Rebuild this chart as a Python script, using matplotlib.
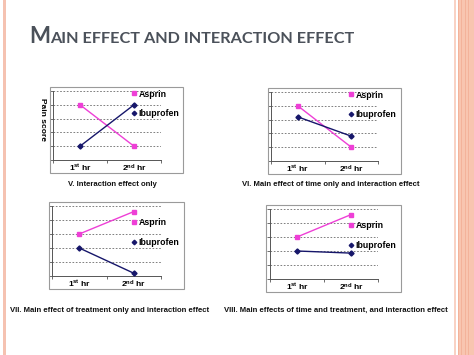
import matplotlib
matplotlib.use("Agg")
import matplotlib.pyplot as plt
from matplotlib.patches import Rectangle
from matplotlib.lines import Line2D
from matplotlib.transforms import offset_copy

plt.rcParams['font.family'] = ['Liberation Sans', 'DejaVu Sans']
plt.rcParams['mathtext.fontset'] = 'custom'
plt.rcParams['mathtext.rm'] = 'Liberation Sans:bold'
plt.rcParams['mathtext.bf'] = 'Liberation Sans:bold'
plt.rcParams['mathtext.it'] = 'Liberation Sans:bold'

# ---------------- data ----------------
title_first = "M"
title_rest = "AIN EFFECT AND INTERACTION EFFECT"
categories = [r"1$^{\mathrm{st}}$ hr", r"2$^{\mathrm{nd}}$ hr"]
series_names = ["Asprin", "Ibuprofen"]
y_label = "Pain score"

caption_v = "V. Interaction effect only"
caption_vi = "VI. Main effect of time only and interaction effect"
caption_vii = "VII. Main effect of treatment only and interaction effect"
caption_viii = "VIII. Main effects of time and treatment, and interaction effect"

aspirin_v = [4, 1]
ibuprofen_v = [1, 4]
aspirin_vi = [4, 1]
ibuprofen_vi = [3.2, 1.8]
aspirin_vii = [3, 4.6]
ibuprofen_vii = [2, 0.2]
aspirin_viii = [3, 4.6]
ibuprofen_viii = [2, 1.85]

# ---------------- style ----------------
W, H = 474, 355
C_ASP = "#ee3fd6"
C_IBU = "#16166a"
C_GRID = "#6a6a6a"
C_FRAME = "#9a9a9a"
C_TITLE = "#4b515a"

fig = plt.figure(figsize=(W / 100, H / 100), dpi=100)
fig.patch.set_facecolor("white")


def fx(x):
    return x / W


def fy(y):
    return 1 - y / H


def rect(x0, y0, x1, y1, **kw):
    fig.patches.append(Rectangle((fx(x0), fy(y1)), (x1 - x0) / W, (y1 - y0) / H,
                                 transform=fig.transFigure, **kw))


# slide decorations
rect(3, 0, 5.5, H, facecolor="#f5c2b1", edgecolor="none")
rect(453.5, 0, 455.5, H, facecolor="#f9d2c4", edgecolor="none")
rect(458, 0, 474, H, facecolor="#f8c5b0", edgecolor="none")
for xs in [(458, 459.3), (461, 462), (464.5, 465.5), (468, 469)]:
    rect(xs[0], 0, xs[1], H, facecolor="#f3b29a", edgecolor="none")

# title (small caps)
t1 = fig.text(fx(29), fy(43), title_first, fontsize=16, color=C_TITLE,
              family="Lato", fontweight="bold", va="baseline", ha="left")
fig.canvas.draw()
bb = t1.get_window_extent()
fig.text(bb.x1 / W + 0.5 / W, fy(43), title_rest, fontsize=11.7, color=C_TITLE,
         family="Lato", fontweight="bold", va="baseline", ha="left")

panels = [
    dict(ax=(53, 161, 91, 160), frame=(50, 87, 183, 173), cap=(112, 185), text=caption_v,
         asp=aspirin_v, ibu=ibuprofen_v, leg_y=4.78, ylabel=True),
    dict(ax=(271, 378, 92, 161), frame=(268, 88, 401, 174), cap=(331, 184), text=caption_vi,
         asp=aspirin_vi, ibu=ibuprofen_vi, leg_y=4.78, ylabel=False),
    dict(ax=(52, 161, 206, 276), frame=(49, 202, 184, 289), cap=(110, 310), text=caption_vii,
         asp=aspirin_vii, ibu=ibuprofen_vii, leg_y=3.79, ylabel=False),
    dict(ax=(270, 378, 209, 279), frame=(266, 205, 401, 292), cap=(336, 310), text=caption_viii,
         asp=aspirin_viii, ibu=ibuprofen_viii, leg_y=3.79, ylabel=False),
]

xpos = [0.5, 1.5]
for p in panels:
    l, r, t, b = p["ax"]
    rect(*p["frame"], facecolor="none", edgecolor=C_FRAME, lw=0.8)
    ax = fig.add_axes([fx(l), fy(b), (r - l) / W, (b - t) / H])
    ax.set_facecolor("none")
    ax.set_xlim(0, 2)
    ax.set_ylim(0, 5)
    ax.plot(xpos, p["asp"], color=C_ASP, lw=1.0, marker="s", ms=2.8, zorder=3)
    ax.plot(xpos, p["ibu"], color=C_IBU, lw=1.0, marker="D", ms=2.6, zorder=3)
    for s in ["top", "right"]:
        ax.spines[s].set_visible(False)
    for s in ["left", "bottom"]:
        ax.spines[s].set_color("#555555")
        ax.spines[s].set_linewidth(0.7)
    ax.set_yticks(range(0, 6))
    ax.set_yticklabels([])
    ax.tick_params(axis="y", length=2, width=0.6, color="#555555")
    ax.grid(axis="y", color=C_GRID, ls=(0, (2, 2)), lw=0.6)
    ax.set_xticks(xpos)
    ax.set_xticklabels(categories, fontsize=6, fontweight="bold")
    ax.set_xticks([0, 1, 2], minor=True)
    ax.tick_params(axis="x", which="major", length=0, pad=2)
    ax.tick_params(axis="x", which="minor", length=2, width=0.6, color="#555555")
    if p["ylabel"]:
        ax.set_ylabel(y_label, fontsize=6, fontweight="bold", rotation=270,
                      va="center", ha="center")
        ax.yaxis.set_label_coords(-0.10, 0.58)
    handles = [Line2D([], [], ls="none", marker="s", ms=2.5, color=C_ASP),
               Line2D([], [], ls="none", marker="D", ms=2.3, color=C_IBU)]
    anchor_tr = offset_copy(ax.transData, fig=fig, x=-1.5, y=4.5, units="dots")
    ax.legend(handles, series_names, loc="upper left", bbox_to_anchor=(1.5, p["leg_y"]),
              bbox_transform=anchor_tr, frameon=False, borderpad=0, borderaxespad=0,
              handlelength=0.35, handletextpad=0.35, labelspacing=1.2,
              prop=dict(size=6.3, weight="bold"))
    fig.text(fx(p["cap"][0]), fy(p["cap"][1]), p["text"], fontsize=5.6, fontweight="bold",
             ha="center", va="center", color="#111111")

fig.savefig("out.png", dpi=100)
